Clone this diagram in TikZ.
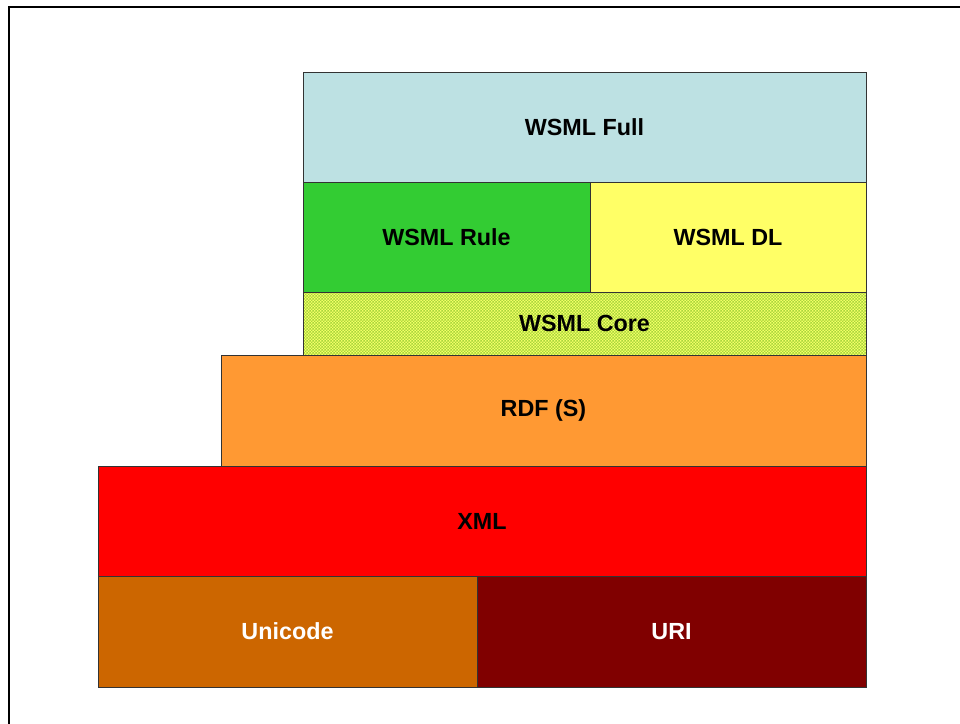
\documentclass[tikz,border=0pt]{standalone}
\usepackage{fontspec}
\setmainfont{Liberation Sans}
\usetikzlibrary{patterns}

\definecolor{fullblue}{HTML}{BDE1E3}
\definecolor{rulegreen}{HTML}{33CC33}
\definecolor{dlyellow}{HTML}{FFFF66}
\definecolor{coreyellow}{HTML}{F4FF66}
\definecolor{coregreen}{HTML}{A8D63C}
\definecolor{rdforange}{HTML}{FF9933}
\definecolor{xmlred}{HTML}{FF0000}
\definecolor{unibrown}{HTML}{CC6600}
\definecolor{urimaroon}{HTML}{800000}

% fine checkerboard for the core layer
\pgfdeclarepatternformonly{checker}{\pgfqpoint{0pt}{0pt}}{\pgfqpoint{2.2pt}{2.2pt}}{\pgfqpoint{2.2pt}{2.2pt}}{
  \pgfpathrectangle{\pgfqpoint{0pt}{0pt}}{\pgfqpoint{1.1pt}{1.1pt}}
  \pgfpathrectangle{\pgfqpoint{1.1pt}{1.1pt}}{\pgfqpoint{1.1pt}{1.1pt}}
  \pgfusepath{fill}
}

\tikzset{
  layer/.style={draw=black!80, line width=0.7pt},
  lbl/.style={font=\fontsize{17.5}{20}\selectfont\bfseries},
}

\begin{document}
\begin{tikzpicture}[x=0.75pt,y=-0.75pt]
\useasboundingbox (0,0) rectangle (960,724);

% frame
\draw[line width=1.6pt] (9,724) -- (9,7) -- (960,7);

% language layers
\filldraw[fullblue, layer] (303,72) rectangle (866,182);
\filldraw[rulegreen, layer] (303,182) rectangle (590,292);
\filldraw[dlyellow, layer] (590,182) rectangle (866,292);
\fill[coreyellow] (303,292) rectangle (866,355);
\fill[pattern=checker, pattern color=coregreen] (303,292) rectangle (866,355);
\draw[layer] (303,292) rectangle (866,355);
\filldraw[rdforange, layer] (221,355) rectangle (866,466);
\filldraw[xmlred, layer] (98,466) rectangle (866,576);
\filldraw[unibrown, layer] (98,576) rectangle (477,687);
\filldraw[urimaroon, layer] (477,576) rectangle (866,687);

% labels
\node[lbl] (full) at (584.5,127) {WSML Full};
\node[lbl] (rule) at (446.5,237) {WSML Rule};
\node[lbl] (dl) at (728,237) {WSML DL};
\node[lbl] (core) at (584.5,323.5) {WSML Core};
\node[lbl] (rdf) at (543.5,410.5) {RDF (S)};
\node[lbl] (xml) at (482,521) {XML};
\node[lbl, white] (unicode) at (287.5,631.5) {Unicode};
\node[lbl, white] (uri) at (671.5,631.5) {URI};

\end{tikzpicture}
\end{document}
